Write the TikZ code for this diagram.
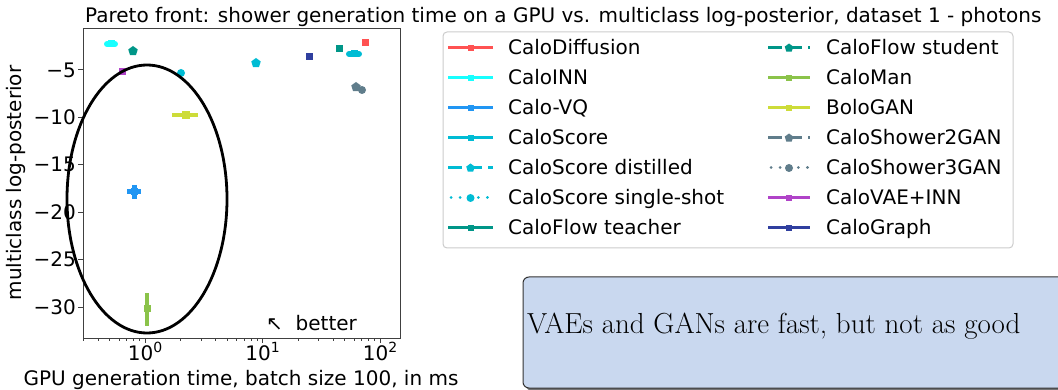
\documentclass[tikz,border=0pt]{standalone}
\usepackage{fontspec}
\usetikzlibrary{shapes.geometric}
\newfontfamily\plotfont{DejaVu Sans}
\newcommand{\tenpow}[1]{10{\fontsize{14}{14}\selectfont\raisebox{8pt}{#1}}}

\definecolor{cDiff}{HTML}{FF5252}
\definecolor{cINN}{HTML}{18FFFF}
\definecolor{cVQ}{HTML}{2196F3}
\definecolor{cScore}{HTML}{00BCD4}
\definecolor{cFlow}{HTML}{009688}
\definecolor{cMan}{HTML}{8BC34A}
\definecolor{cBolo}{HTML}{CDDC39}
\definecolor{cShower}{HTML}{607D8B}
\definecolor{cVAE}{HTML}{B043C8}
\definecolor{cGraph}{HTML}{303F9F}
\definecolor{boxfill}{HTML}{C9D8EF}

\tikzset{
  mksq/.style={rectangle, minimum size=7pt, inner sep=0pt, fill=#1},
  mkpent/.style={regular polygon, regular polygon sides=5, minimum size=10pt, inner sep=0pt, fill=#1},
  mkcirc/.style={circle, minimum size=8pt, inner sep=0pt, fill=#1},
  errbar/.style={line width=4pt, draw=#1},
  lgline/.style={line width=3pt, draw=#1},
  lgtext/.style={anchor=base west, inner sep=0pt, font=\plotfont\fontsize{20}{24}\selectfont},
  ticklab/.style={inner sep=0pt, font=\plotfont\fontsize{20}{24}\selectfont},
  axframe/.style={draw=black!75, line width=1pt},
}

\begin{document}
\begin{tikzpicture}[x=1pt, y=-1pt]
\useasboundingbox (0,0) rectangle (1058,390);

% ---------------- plot axes ----------------
\draw[axframe] (83,29) rectangle (400,338);
% y ticks: y = 22.6 - 9.48 v
\foreach \v in {-5,-10,-15,-20,-25,-30} {
  \pgfmathsetmacro{\yy}{22.6-9.48*\v}
  \draw[black!75, line width=1pt] (78,\yy) -- (83,\yy);
  \node[ticklab, anchor=east] at (76,\yy) {−\the\numexpr-\v\relax};
}
% x ticks: x = 145 + 117.5 log10(t)
\foreach \e/\xx in {0/145,1/262.5,2/380} {
  \draw[black!75, line width=1pt] (\xx,338) -- (\xx,343);
  \node[ticklab, anchor=base] at (\xx,360) {\tenpow{\e}};
}
\foreach \t in {0.3,0.4,0.5,0.6,0.7,0.8,0.9,2,3,4,5,6,7,8,9,20,30,40,50,60,70,80,90} {
  \pgfmathsetmacro{\xx}{145+117.5*ln(\t)/ln(10)}
  \draw[black!75, line width=0.7pt] (\xx,338) -- (\xx,341);
}

% axis labels and title
\node[ticklab, anchor=base] (xlab) at (241,385) {GPU generation time, batch size 100, in ms};
\node[ticklab, rotate=90, anchor=center] (ylab) at (16,183) {multiclass log-posterior};
\node[ticklab, anchor=base west] (title) at (85,23) {Pareto front: shower generation time on a GPU vs. multiclass log-posterior, dataset 1 - photons};
\node[ticklab, anchor=base west] (better) at (266,330) {↖\ \ better};

% ---------------- data points ----------------
\node[mksq=cDiff] (pDiff) at (365,43) {};
\draw[line width=6pt, line cap=round, cINN] (107,44) -- (115,44);
\node[mksq=cINN] (pINN) at (111,44) {};
\node[mkpent=cFlow] (pFlowS) at (133,51) {};
\node[mksq=cVAE] (pVAE) at (122,72) {};
\node[mkcirc=cScore] (pScoreSS) at (181,73) {};
\node[mkpent=cScore] (pScoreD) at (256,63) {};
\node[mksq=cGraph] (pGraph) at (309,57) {};
\node[mksq=cFlow] (pFlowT) at (339,49) {};
\draw[line width=6pt, line cap=round, cScore] (349,54) -- (359,54);
\node[mksq=cScore] (pScore) at (354,54) {};
\node[mkpent=cShower] (pSh2) at (356,87) {};
\node[mkcirc=cShower] (pSh3) at (362,90) {};
\draw[errbar=cBolo] (172,115) -- (198,115);
\node[mksq=cBolo, minimum size=8pt] (pBolo) at (186,115) {};
\draw[line width=5pt, cVQ] (127,192) -- (141,192);
\draw[line width=5pt, cVQ] (134,185) -- (134,199);
\node[mksq=cVQ] (pVQ) at (134,192) {};
\draw[errbar=cMan] (147,293) -- (147,326);
\node[mksq=cMan] (pMan) at (147,308) {};

% highlighted region
\node[draw=black, line width=2.8pt, ellipse, minimum width=160pt, minimum height=268pt, inner sep=0pt] (region) at (147,199) {};

% ---------------- legend ----------------
\draw[draw=black!20, fill=white, line width=1pt, rounded corners=4pt] (443,32) rectangle (1013,248);
% column 1
\draw[lgline=cDiff] (448,48) -- (493,48);  \node[mksq=cDiff, minimum size=6pt] (l1m) at (470.5,48) {};
\node[lgtext] (l1) at (508,55) {CaloDiffusion};
\draw[lgline=cINN] (448,78) -- (493,78);  \node[mksq=cINN, minimum size=6pt] (l2m) at (470.5,78) {};
\node[lgtext] (l2) at (508,85) {CaloINN};
\draw[lgline=cVQ] (448,108) -- (493,108);  \node[mksq=cVQ, minimum size=6pt] (l3m) at (470.5,108) {};
\node[lgtext] (l3) at (508,115) {Calo-VQ};
\draw[lgline=cScore] (448,138) -- (493,138);  \node[mksq=cScore, minimum size=6pt] (l4m) at (470.5,138) {};
\node[lgtext] (l4) at (508,145) {CaloScore};
\draw[lgline=cScore, dash pattern=on 14pt off 6pt] (448,168) -- (493,168);  \node[mkpent=cScore, minimum size=9pt] (l5m) at (470.5,168) {};
\node[lgtext] (l5) at (508,175) {CaloScore distilled};
\draw[lgline=cScore, line cap=round, dash pattern=on 0.1pt off 9pt] (451,198) -- (493,198);  \node[mkcirc=cScore, minimum size=8pt] (l6m) at (470.5,198) {};
\node[lgtext] (l6) at (508,205) {CaloScore single-shot};
\draw[lgline=cFlow] (448,228) -- (493,228);  \node[mksq=cFlow, minimum size=6pt] (l7m) at (470.5,228) {};
\node[lgtext] (l7) at (508,235) {CaloFlow teacher};
% column 2
\draw[lgline=cFlow, dash pattern=on 14pt off 6pt] (768,48) -- (810,48);  \node[mkpent=cFlow, minimum size=9pt] (l8m) at (789,48) {};
\node[lgtext] (l8) at (826,55) {CaloFlow student};
\draw[lgline=cMan] (768,78) -- (810,78);  \node[mksq=cMan, minimum size=6pt] (l9m) at (789,78) {};
\node[lgtext] (l9) at (826,85) {CaloMan};
\draw[lgline=cBolo] (768,108) -- (810,108);  \node[mksq=cBolo, minimum size=6pt] (l10m) at (789,108) {};
\node[lgtext] (l10) at (826,115) {BoloGAN};
\draw[lgline=cShower, dash pattern=on 14pt off 6pt] (768,138) -- (810,138);  \node[mkpent=cShower, minimum size=9pt] (l11m) at (789,138) {};
\node[lgtext] (l11) at (826,145) {CaloShower2GAN};
\draw[lgline=cShower, line cap=round, dash pattern=on 0.1pt off 9pt] (771,168) -- (810,168);  \node[mkcirc=cShower, minimum size=8pt] (l12m) at (789,168) {};
\node[lgtext] (l12) at (826,175) {CaloShower3GAN};
\draw[lgline=cVAE] (768,198) -- (810,198);  \node[mksq=cVAE, minimum size=6pt] (l13m) at (789,198) {};
\node[lgtext] (l13) at (826,205) {CaloVAE+INN};
\draw[lgline=cGraph] (768,228) -- (810,228);  \node[mksq=cGraph, minimum size=6pt] (l14m) at (789,228) {};
\node[lgtext] (l14) at (826,235) {CaloGraph};

% ---------------- remark box ----------------
\fill[black!55, rounded corners=6pt] (526,280) rectangle (1075,391);
\draw[draw=black!80, fill=boxfill, line width=1pt, rounded corners=6pt] (523,277) rectangle (1072,388);
\node[anchor=base west, inner sep=0pt, font=\rmfamily\fontsize{29}{34}\selectfont] (remark) at (527,334) {VAEs and GANs are fast, but not as good};
\end{tikzpicture}
\end{document}
